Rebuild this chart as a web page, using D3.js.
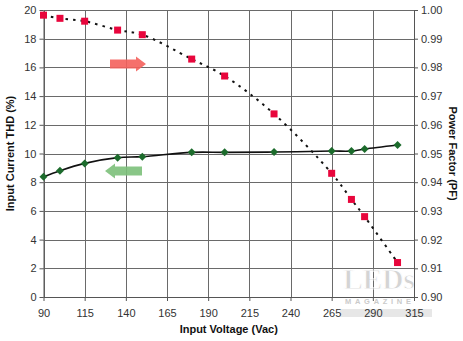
<!DOCTYPE html>
<html>
<head>
<meta charset="utf-8">
<script src="https://cdn.jsdelivr.net/npm/d3@7/dist/d3.min.js"></script>
<style>
  html, body { margin: 0; padding: 0; background: #fff; }
  svg { display: block; font-family: Arial, "Liberation Sans", sans-serif; }
</style>
</head>
<body>
<svg id="chart" width="463" height="341"></svg>
<script>
// Input voltage (Vac) sweep
const thdVoltage = [90, 100, 115, 135, 150, 180, 200, 230, 265, 277, 285, 305];
const thdValues  = [8.38, 8.8, 9.31, 9.71, 9.78, 10.08, 10.08, 10.1, 10.17, 10.17, 10.31, 10.59];

const pfVoltage = [90, 100, 115, 135, 150, 180, 200, 230, 265, 277, 285, 305];
const pfValues  = [0.9982, 0.9971, 0.9961, 0.993, 0.9914, 0.9829, 0.977, 0.9638, 0.9431, 0.934, 0.928, 0.912];

const xTicks  = [90, 115, 140, 165, 190, 215, 240, 265, 290, 315];
const thdTicks = [0, 2, 4, 6, 8, 10, 12, 14, 16, 18, 20];
const pfTicks  = [0.90, 0.91, 0.92, 0.93, 0.94, 0.95, 0.96, 0.97, 0.98, 0.99, 1.00];

const margin = { left: 43.5, right: 414, top: 10, bottom: 297 };
const svg = d3.select("#chart");

const x = d3.scaleLinear().domain([90, 315]).range([margin.left, margin.right]);
const yL = d3.scaleLinear().domain([0, 20]).range([margin.bottom, margin.top]);
const yR = d3.scaleLinear().domain([0.90, 1.00]).range([margin.bottom, margin.top]);

// gridlines
const grid = svg.append("g").attr("stroke", "#6a6a6a").attr("stroke-width", 1);
xTicks.forEach(t => grid.append("line")
  .attr("x1", Math.round(x(t)) + 0.5).attr("x2", Math.round(x(t)) + 0.5)
  .attr("y1", margin.top).attr("y2", margin.bottom));
thdTicks.forEach(t => grid.append("line")
  .attr("x1", margin.left).attr("x2", margin.right)
  .attr("y1", Math.round(yL(t)) + 0.5).attr("y2", Math.round(yL(t)) + 0.5));

// publisher mark, sitting inside the lower-right corner of the plot
const wm = svg.append("g").attr("opacity", 0.6);
wm.append("text").attr("x", 343).attr("y", 289).attr("font-size", 30).attr("font-weight", "bold")
  .attr("font-family", "'Liberation Serif', serif").attr("fill", "#b8b8b8").attr("stroke", "#fff").attr("stroke-width", 1)
  .attr("textLength", 72).text("LEDs");
wm.append("rect").attr("x", 340).attr("y", 309).attr("width", 92).attr("height", 8).attr("fill", "#c8c8c8").attr("opacity", 0.7);

// axes
const fmtR = d3.format(".2f");
const axisStyle = g => {
  g.selectAll("path.domain").attr("stroke", "#555");
  g.selectAll(".tick line").attr("stroke", "#555");
  g.selectAll(".tick text").attr("fill", "#333").attr("font-size", 11)
    .attr("font-family", "Arial, 'Liberation Sans', sans-serif");
};
svg.append("g").attr("transform", `translate(${margin.left},0)`)
  .call(d3.axisLeft(yL).tickValues(thdTicks).tickSize(4).tickPadding(3).tickSizeOuter(0))
  .call(axisStyle);
svg.append("g").attr("transform", `translate(${margin.right},0)`)
  .call(d3.axisRight(yR).tickValues(pfTicks).tickFormat(fmtR).tickSize(4).tickPadding(3).tickSizeOuter(0))
  .call(axisStyle);
svg.append("g").attr("transform", `translate(0,${margin.bottom})`)
  .call(d3.axisBottom(x).tickValues(xTicks).tickSize(4).tickPadding(8).tickSizeOuter(0))
  .call(axisStyle);

wm.append("text").attr("x", 345).attr("y", 304).attr("font-size", 7.5).attr("font-weight", "bold")
  .attr("fill", "#a8a8a8").attr("textLength", 66).text("MAGAZINE");

// axis titles
svg.append("text").attr("transform", `translate(14,${(margin.top + margin.bottom) / 2}) rotate(-90)`)
  .attr("text-anchor", "middle").attr("font-size", 11).attr("font-weight", "bold").attr("fill", "#111")
  .text("Input Current THD (%)");
svg.append("text").attr("transform", `translate(449,${(margin.top + margin.bottom) / 2}) rotate(90)`)
  .attr("text-anchor", "middle").attr("font-size", 11).attr("font-weight", "bold").attr("fill", "#111")
  .text("Power Factor (PF)");
svg.append("text").attr("x", (margin.left + margin.right) / 2).attr("y", 333)
  .attr("text-anchor", "middle").attr("font-size", 11).attr("font-weight", "bold").attr("fill", "#111")
  .text("Input Voltage (Vac)");

// direction arrows
const arrow = (x0, x1, yc, dir, fill) => {
  const head = 10, hh = 7.5, sh = 4.5;
  const xb = dir > 0 ? x1 - head : x1 + head;
  const pts = [[x0, yc - sh], [xb, yc - sh], [xb, yc - hh], [x1, yc], [xb, yc + hh], [xb, yc + sh], [x0, yc + sh]];
  svg.append("path").attr("d", d3.line()(pts) + "Z").attr("fill", fill).attr("opacity", 0.9);
};
arrow(110, 146, 64, 1, "#f4605c");
arrow(142, 105, 171, -1, "#7cc07a");

// THD curve
const thdPts = thdVoltage.map((v, i) => [x(v), yL(thdValues[i])]);
svg.append("path").attr("d", d3.line().curve(d3.curveCatmullRom)(thdPts))
  .attr("fill", "none").attr("stroke", "#111").attr("stroke-width", 1.6);
svg.append("g").selectAll("path").data(thdPts).join("path")
  .attr("d", d => `M${d[0]},${d[1] - 4}L${d[0] + 4},${d[1]}L${d[0]},${d[1] + 4}L${d[0] - 4},${d[1]}Z`)
  .attr("fill", "#1c6b2c");

// PF curve
const pfPts = pfVoltage.map((v, i) => [x(v), yR(pfValues[i])]);
svg.append("path").attr("d", d3.line().curve(d3.curveCatmullRom)(pfPts))
  .attr("fill", "none").attr("stroke", "#111").attr("stroke-width", 2)
  .attr("stroke-dasharray", "2.5,5");
svg.append("g").selectAll("rect").data(pfPts).join("rect")
  .attr("x", d => d[0] - 3.5).attr("y", d => d[1] - 3.5)
  .attr("width", 7).attr("height", 7).attr("fill", "#e8063c");
</script>
</body>
</html>
